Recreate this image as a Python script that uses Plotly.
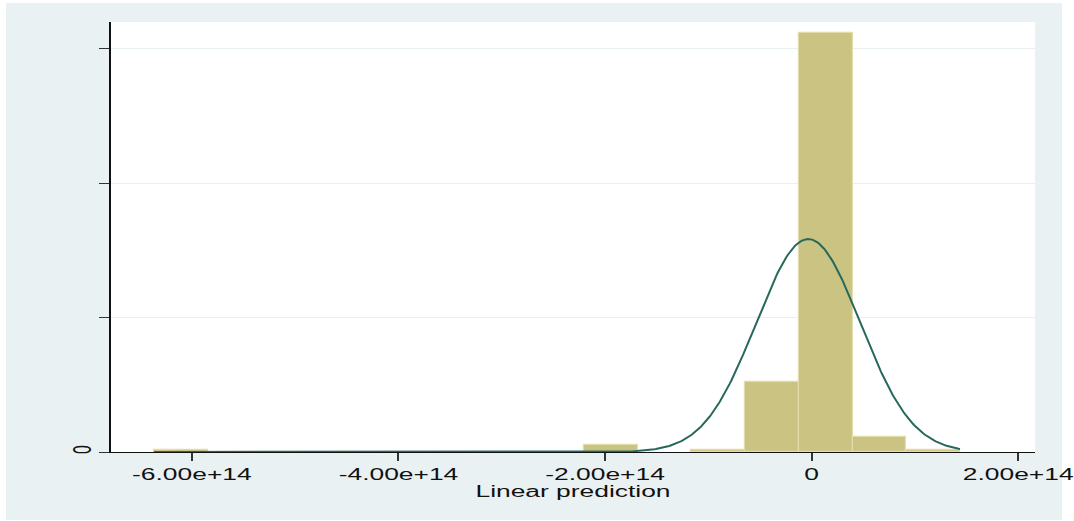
import numpy as np
import plotly.graph_objects as go

# Histogram of the linear prediction (density scale), 15 equal-width bins
bin_start = -6.367e14
bin_width = 0.5202e14
bin_density = [9.3e-17, 0, 0, 0, 0, 0, 0, 0, 2.6e-16, 0, 9.3e-17,
               2.59e-15, 1.558e-14, 5.7e-16, 9.3e-17]

# Normal density overlay parameters
norm_mean = -3.3e12
norm_sd = 5.04e13

x_tick_vals = [-6e14, -4e14, -2e14, 0, 2e14]
x_tick_text = ["-6.00e+14", "-4.00e+14", "-2.00e+14", "0", "2.00e+14"]
y_tick_vals = [0, 5e-15, 1e-14, 1.5e-14]
y_tick_text = ["0", "", "", ""]

centers, heights = [], []
for i, d in enumerate(bin_density):
    if d > 0:
        centers.append(bin_start + (i + 0.5) * bin_width)
        heights.append(d)

x_min = bin_start
x_max = bin_start + len(bin_density) * bin_width
xs = np.linspace(x_min, x_max, 600)
ys = np.exp(-0.5 * ((xs - norm_mean) / norm_sd) ** 2) / (norm_sd * np.sqrt(2 * np.pi))

BG = "#eaf1f3"
FONT = "Liberation Sans, Arial, sans-serif"
FS = 16

fig = go.Figure()
fig.add_trace(go.Bar(
    x=centers, y=heights, width=bin_width,
    marker=dict(color="#cac381", line=dict(color="#e2dcab", width=1.2)),
    hoverinfo="skip", showlegend=False,
))
fig.add_trace(go.Scatter(
    x=xs, y=ys, mode="lines",
    line=dict(color="#26685c", width=2),
    hoverinfo="skip", showlegend=False,
))

# plot-region geometry in pixels
W, H = 1074, 521
L, R, T, B = 111, 1035, 22, 452
pw, ph = R - L, B - T


def px_x(px):
    return (px - L) / pw


def px_y(py):
    return (B - py) / ph


# thin white frame around the tinted graph region
for (x0, y0, x1, y1) in [(0, 0, 6, H), (0, 0, W, 3), (1062, 0, W, H), (0, 520, W, H)]:
    fig.add_shape(
        type="rect", xref="paper", yref="paper", layer="below",
        x0=px_x(x0), x1=px_x(x1), y0=px_y(y1), y1=px_y(y0),
        fillcolor="white", line=dict(width=0),
    )

fig.update_layout(
    width=W, height=H,
    margin=dict(l=L, r=W - R, t=T, b=H - B, pad=0),
    paper_bgcolor=BG,
    plot_bgcolor="white",
    bargap=0,
    font=dict(family=FONT, size=FS, color="#111111"),
    xaxis=dict(
        range=[-6.783e14, 2.162e14],
        tickvals=x_tick_vals, ticktext=x_tick_text,
        ticks="outside", ticklen=8, tickwidth=1.5, tickcolor="#333333",
        showline=True, linecolor="#111111", linewidth=1,
        showgrid=False, zeroline=False,
        title=dict(text="Linear prediction", standoff=1,
                   font=dict(family=FONT, size=FS)),
        tickfont=dict(family=FONT, size=FS),
    ),
    yaxis=dict(
        range=[0, 1.5986e-14],
        tickvals=y_tick_vals, ticktext=y_tick_text,
        tickangle=-90,
        ticks="outside", ticklen=10, tickwidth=1, tickcolor="#333333",
        ticklabelstandoff=5,
        showline=True, linecolor="#111111", linewidth=1.6,
        showgrid=True, gridcolor="#e9f0f2", gridwidth=1,
        zeroline=False,
        tickfont=dict(family=FONT, size=FS),
    ),
)

# widen axis text horizontally about its own centre
post_js = """
var gd = document.getElementById('{plot_id}');
var sx = 1.65;
gd.querySelectorAll('g.xtick text, g.ytick text, text.xtitle').forEach(function (t) {
  var bb = t.getBBox();
  var lx = bb.x + bb.width / 2, ly = bb.y + bb.height / 2;
  var cx = lx, cy = ly;
  var tl = t.transform.baseVal;
  if (tl.numberOfItems > 0) {
    var M = tl.consolidate().matrix;
    cx = M.a * lx + M.c * ly + M.e;
    cy = M.b * lx + M.d * ly + M.f;
  }
  var old = t.getAttribute('transform') || '';
  t.setAttribute('transform', 'translate(' + cx + ',' + cy + ') scale(' + sx + ',1) translate(' + (-cx) + ',' + (-cy) + ') ' + old);
});
"""

fig.write_html("out.html", post_script=post_js)
